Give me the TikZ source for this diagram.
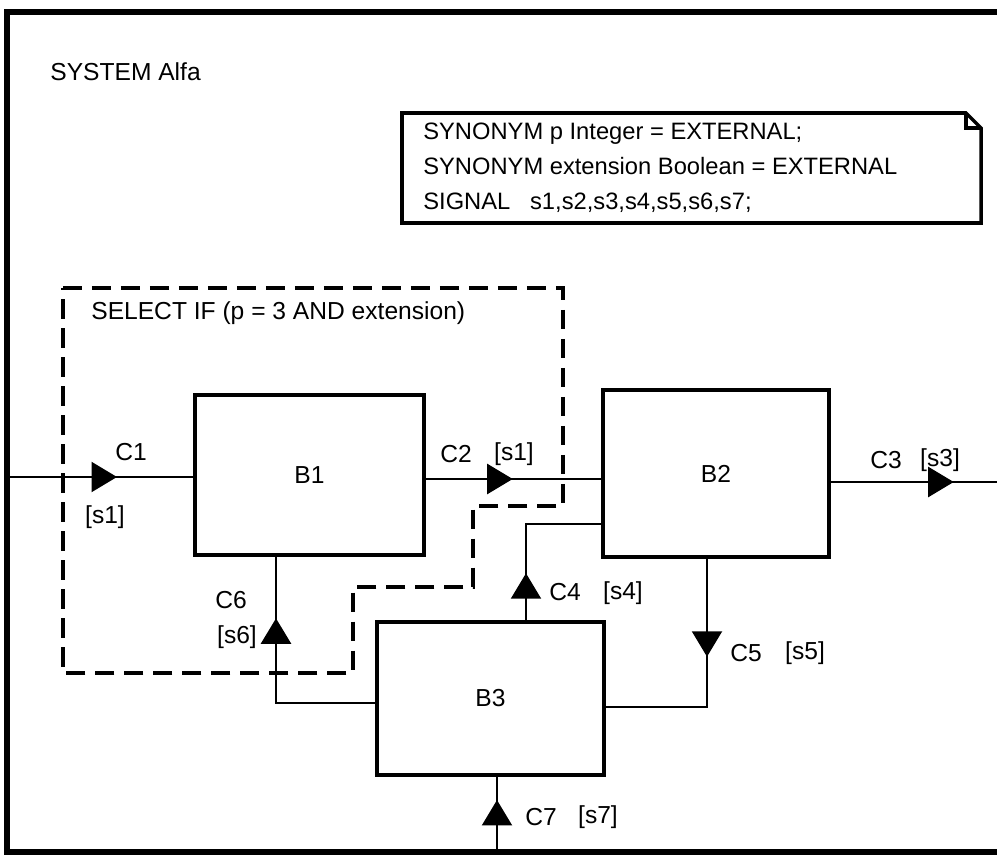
\documentclass[tikz,border=0pt]{standalone}
\usepackage{fontspec}
\setmainfont{Liberation Sans}
\usetikzlibrary{arrows.meta, decorations.markings, positioning}

\begin{document}
\begin{tikzpicture}[x=0.02cm, y=-0.02cm,
  every node/.style={font=\fontsize{14pt}{17pt}\selectfont, inner sep=0pt},
  block/.style={draw, line width=2pt},
  wire/.style={line width=1.6pt},
  tipat/.style={postaction={decorate}, decoration={markings,
      mark=at position #1 with {\arrow{Triangle[length=14.5pt, width=17pt]}}}},
  select/.style={line width=1.8pt, dash pattern=on 11pt off 5.5pt},
  frame/.style={line width=3pt}]
  \useasboundingbox (0,0) rectangle (997,855);
  % system frame
  \draw[frame] (997,12) -- (7,12) -- (7,852) -- (997,852);
  \node[anchor=west] (title) at (50,72) {SYSTEM Alfa};
  % text symbol
  \draw[line width=2pt] (402,113) -- (966,113) -- (981,128) -- (981,223) -- (402,223) -- cycle;
  \draw[line width=2pt] (966,113) -- (966,128) -- (981,128);
  \node[anchor=west, align=left, font=\fontsize{13.5pt}{20pt}\selectfont] (decl) at (423,168)
    {SYNONYM p Integer = EXTERNAL;\\
     SYNONYM extension Boolean = EXTERNAL\\
     SIGNAL\ \ \ s1,s2,s3,s4,s5,s6,s7;};
  % select region
  \draw[select] (63,288) -- (563,288) -- (563,506) -- (473,506) -- (473,587)
    -- (353,587) -- (353,673) -- (63,673) -- cycle;
  \node[anchor=west] (cond) at (91,313) {SELECT IF (p = 3 AND extension)};
  % blocks
  \node[block, minimum width=4.58cm, minimum height=3.2cm] (B1) at (309.5,475) {B1};
  \node[block, minimum width=4.52cm, minimum height=3.34cm] (B2) at (716,473.5) {B2};
  \node[block, minimum width=4.54cm, minimum height=3.06cm] (B3) at (490.5,698.5) {B3};
  % channels
  \coordinate (c1in) at (7,477);
  \coordinate (c2y) at (0,479);
  \coordinate (c3out) at (997,482);
  \coordinate (c4bend) at (526,524);
  \coordinate (c5bend) at (707,707);
  \coordinate (c6bend) at (276,703);
  \coordinate (c7in) at (497,852);
  \draw[wire, tipat=2.2cm] (c1in) -- (c1in -| B1.west);
  \draw[wire, tipat=1.74cm] (B1.east |- c2y) -- (B2.west |- c2y);
  \draw[wire, tipat=2.46cm] (c3out -| B2.east) -- (c3out);
  \draw[wire, tipat=0.94cm] (c4bend |- B3.north) -- (c4bend) -- (c4bend -| B2.west);
  \draw[wire, tipat=1.96cm] (c5bend |- B2.south) -- (c5bend) -- (c5bend -| B3.east);
  \draw[wire, tipat=3.68cm] (c6bend -| B3.west) -- (c6bend) -- (c6bend |- B1.south);
  \draw[wire, tipat=1.04cm] (c7in) -- (c7in |- B3.south);
  % channel labels
  \node (C1) at (131,452) {C1};
  \node (s1in) at (105,517) {[s1]};
  \node (C2) at (456,454) {C2};
  \node (s1out) at (514,454) {[s1]};
  \node (C3) at (886,460) {C3};
  \node (s3) at (940,460) {[s3]};
  \node (C4) at (565,592) {C4};
  \node (s4) at (623,593) {[s4]};
  \node (C5) at (746,653) {C5};
  \node (s5) at (805,653) {[s5]};
  \node (C6) at (231,600) {C6};
  \node (s6) at (237,637) {[s6]};
  \node (C7) at (541,817) {C7};
  \node (s7) at (598,817) {[s7]};
\end{tikzpicture}
\end{document}
